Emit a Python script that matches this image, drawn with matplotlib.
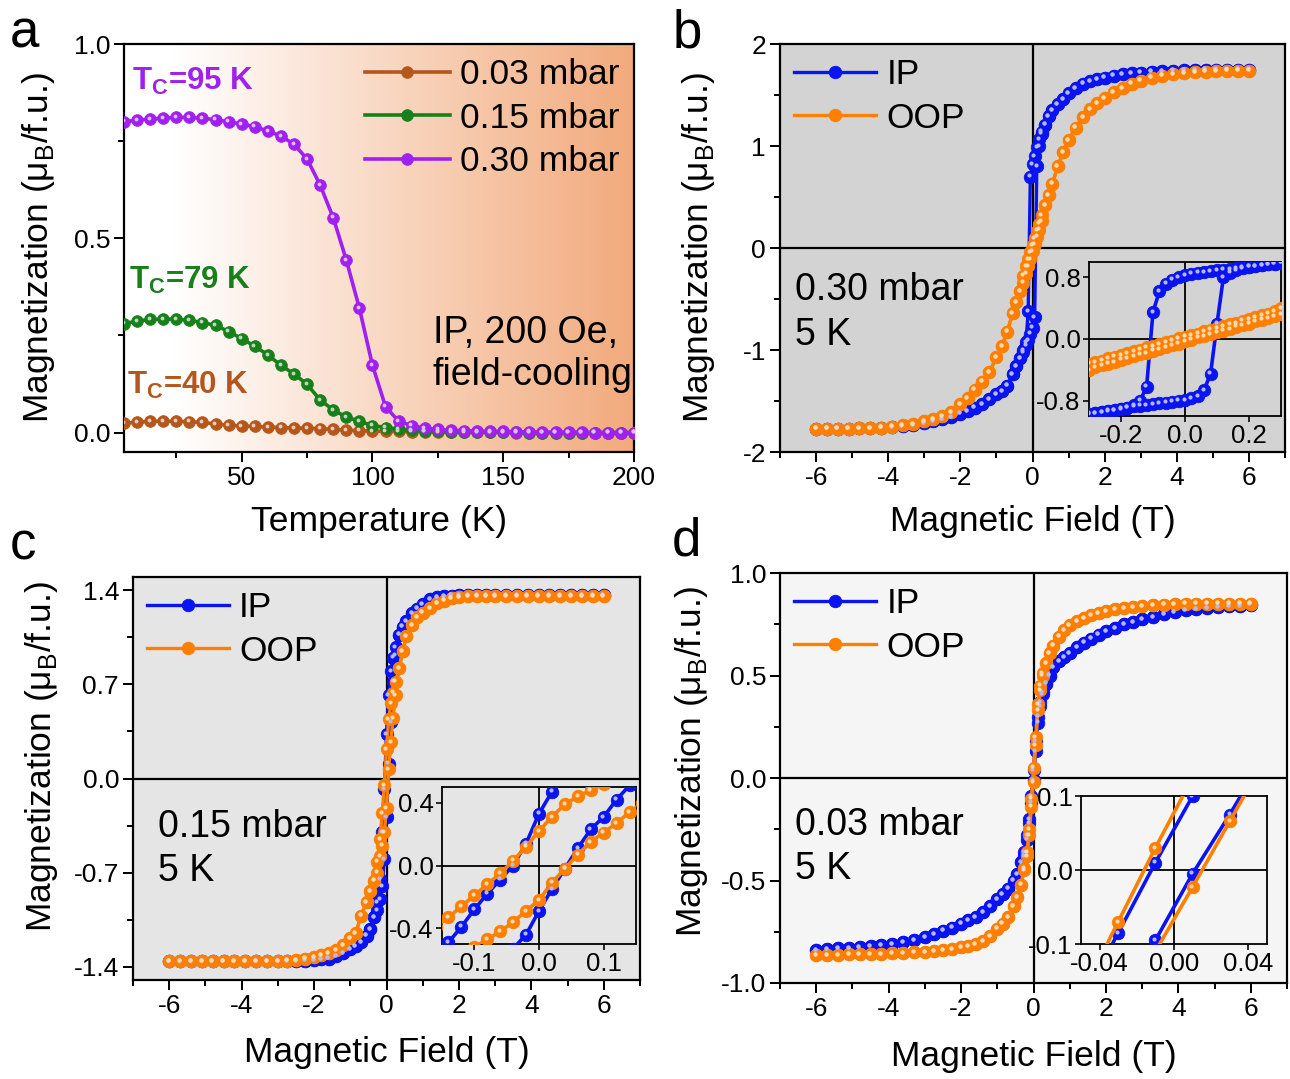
import numpy as np
import matplotlib
matplotlib.use("Agg")
import matplotlib.pyplot as plt
from matplotlib.colors import LinearSegmentedColormap, to_rgb
from matplotlib.transforms import offset_copy
from matplotlib.ticker import MultipleLocator, FormatStrFormatter

plt.rcParams["font.family"] = ["Liberation Sans", "DejaVu Sans"]
plt.rcParams["axes.unicode_minus"] = False

# ---------------- panel a: M(T), field cooled ----------------
temps = [5, 10, 15, 20, 25, 30, 35, 40, 45, 50, 55, 60, 65, 70, 75, 80, 85, 90, 95, 100,
         105, 110, 115, 120, 125, 130, 135, 140, 145, 150, 155, 160, 165, 170, 175, 180,
         185, 190, 195, 200]
m_003 = [0.024, 0.027, 0.029, 0.029, 0.029, 0.028, 0.026, 0.022, 0.019, 0.017,
         0.016, 0.014, 0.013, 0.012, 0.011, 0.010, 0.008, 0.006, 0.005, 0.004,
         0.003, 0.003, 0.002, 0.002, 0.001, 0.001, 0.001, 0.001, 0.001, 0.001,
         0.0, 0.0, 0.0, 0.0, 0.0, 0.0, 0.0, 0.0, 0.0, 0.0]
m_015 = [0.280, 0.287, 0.291, 0.292, 0.292, 0.289, 0.283, 0.276, 0.260, 0.242,
         0.222, 0.200, 0.173, 0.151, 0.124, 0.084, 0.058, 0.040, 0.029, 0.018,
         0.013, 0.009, 0.006, 0.004, 0.003, 0.002, 0.002, 0.001, 0.001, 0.001,
         0.001, 0.0, 0.0, 0.0, 0.0, 0.0, 0.0, 0.0, 0.0, 0.0]
m_030 = [0.800, 0.804, 0.807, 0.809, 0.811, 0.811, 0.809, 0.805, 0.800, 0.794,
         0.787, 0.776, 0.763, 0.742, 0.704, 0.637, 0.553, 0.444, 0.320, 0.173,
         0.067, 0.029, 0.018, 0.011, 0.008, 0.006, 0.005, 0.004, 0.003, 0.003,
         0.002, 0.002, 0.001, 0.001, 0.001, 0.001, 0.0, 0.0, 0.0, 0.0]

# ---------------- panels b-d: M(H) loops, shared field steps ----------------
H_LO = [-6.0, -5.7, -5.4, -5.1, -4.8, -4.5, -4.2, -3.9, -3.6, -3.3, -3.0, -2.75, -2.5,
        -2.25, -2.0, -1.8, -1.6, -1.4, -1.2, -1.0, -0.85, -0.7, -0.55, -0.45, -0.35]
H_MID = [-0.25, -0.18, -0.12, -0.06, 0.0, 0.06, 0.12, 0.18, 0.25]
H_HI = [0.35, 0.45, 0.55, 0.7, 0.85, 1.0, 1.2, 1.4, 1.6, 1.8, 2.0, 2.25, 2.5, 2.75,
        3.0, 3.3, 3.6, 3.9, 4.2, 4.5, 4.8, 5.1, 5.4, 5.7, 6.0]

# 0.30 mbar
ip_b_lo = [-1.77, -1.77, -1.77, -1.77, -1.765, -1.765, -1.76, -1.755, -1.745, -1.735,
           -1.72, -1.70, -1.68, -1.655, -1.625, -1.60, -1.565, -1.53, -1.48, -1.43,
           -1.40, -1.35, -1.24, -1.16, -1.08]
ip_b_dn = [-1.00, -0.92, -0.62, 0.70, 0.82, 0.90, 0.99, 1.07, 1.14]
ip_b_up = [-1.02, -0.95, -0.90, -0.84, -0.78, -0.68, 0.80, 1.00, 1.12]
ip_b_hi = [1.21, 1.29, 1.35, 1.41, 1.46, 1.52, 1.57, 1.61, 1.635, 1.655, 1.67, 1.69,
           1.705, 1.715, 1.72, 1.73, 1.735, 1.74, 1.743, 1.746, 1.748, 1.75, 1.75,
           1.75, 1.75]
oop_b_lo = [-1.77, -1.77, -1.77, -1.77, -1.765, -1.765, -1.76, -1.75, -1.74, -1.73,
            -1.70, -1.68, -1.65, -1.61, -1.53, -1.47, -1.39, -1.31, -1.22, -1.07,
            -0.96, -0.82, -0.64, -0.53, -0.42]
oop_b_dn = [-0.27, -0.18, -0.11, -0.04, 0.03, 0.10, 0.17, 0.24, 0.32]
oop_b_up = [-0.34, -0.25, -0.18, -0.11, -0.03, 0.04, 0.11, 0.18, 0.26]
oop_b_hi = [0.42, 0.52, 0.63, 0.80, 0.94, 1.06, 1.18, 1.28, 1.36, 1.42, 1.47, 1.53,
            1.57, 1.61, 1.64, 1.67, 1.69, 1.705, 1.715, 1.725, 1.73, 1.735, 1.74,
            1.74, 1.74]

# 0.15 mbar
ip_c_lo = [-1.36, -1.36, -1.36, -1.36, -1.36, -1.36, -1.36, -1.36, -1.36, -1.36,
           -1.36, -1.36, -1.36, -1.355, -1.35, -1.345, -1.34, -1.325, -1.30, -1.27,
           -1.25, -1.22, -1.17, -1.12, -1.03]
ip_c_dn = [-0.92, -0.75, -0.40, -0.08, 0.33, 0.62, 0.80, 0.90, 0.98]
ip_c_up = [-0.98, -0.90, -0.80, -0.60, -0.29, 0.11, 0.42, 0.72, 0.92]
ip_c_hi = [1.07, 1.13, 1.17, 1.23, 1.265, 1.30, 1.335, 1.352, 1.36, 1.362, 1.363,
           1.364, 1.365, 1.365, 1.365, 1.365, 1.365, 1.365, 1.365, 1.365, 1.365,
           1.365, 1.365, 1.365, 1.365]
oop_c_lo = [-1.36, -1.36, -1.36, -1.36, -1.36, -1.36, -1.36, -1.36, -1.36, -1.36,
            -1.36, -1.355, -1.35, -1.34, -1.33, -1.315, -1.30, -1.28, -1.24, -1.19,
            -1.15, -1.02, -0.92, -0.84, -0.76]
oop_c_dn = [-0.62, -0.45, -0.26, -0.05, 0.22, 0.44, 0.56, 0.64, 0.72]
oop_c_up = [-0.70, -0.58, -0.50, -0.40, -0.22, 0.07, 0.27, 0.45, 0.62]
oop_c_hi = [0.82, 0.95, 1.06, 1.14, 1.20, 1.235, 1.27, 1.305, 1.325, 1.34, 1.35,
            1.355, 1.36, 1.36, 1.36, 1.36, 1.36, 1.36, 1.36, 1.36, 1.36, 1.36, 1.36,
            1.36, 1.36]

# 0.03 mbar
ip_d_lo = [-0.84, -0.835, -0.83, -0.83, -0.825, -0.82, -0.815, -0.81, -0.80, -0.79,
           -0.775, -0.76, -0.745, -0.73, -0.71, -0.695, -0.68, -0.655, -0.625, -0.59,
           -0.565, -0.54, -0.50, -0.47, -0.41]
ip_d_dn = [-0.36, -0.28, -0.20, -0.09, 0.04, 0.18, 0.30, 0.37, 0.42]
ip_d_up = [-0.38, -0.30, -0.22, -0.12, -0.01, 0.13, 0.27, 0.35, 0.41]
ip_d_hi = [0.46, 0.50, 0.54, 0.57, 0.59, 0.61, 0.64, 0.66, 0.68, 0.70, 0.715, 0.73,
           0.75, 0.76, 0.775, 0.785, 0.80, 0.81, 0.82, 0.825, 0.83, 0.835, 0.84,
           0.84, 0.845]
oop_d_lo = [-0.865, -0.865, -0.865, -0.86, -0.86, -0.86, -0.86, -0.855, -0.855, -0.85,
            -0.85, -0.845, -0.84, -0.835, -0.825, -0.82, -0.81, -0.795, -0.77, -0.735,
            -0.71, -0.68, -0.625, -0.58, -0.52]
oop_d_dn = [-0.44, -0.36, -0.25, -0.10, 0.05, 0.20, 0.36, 0.45, 0.51]
oop_d_up = [-0.45, -0.38, -0.28, -0.14, -0.02, 0.16, 0.33, 0.43, 0.50]
oop_d_hi = [0.56, 0.61, 0.645, 0.69, 0.72, 0.745, 0.765, 0.78, 0.795, 0.805, 0.815,
            0.825, 0.83, 0.835, 0.84, 0.843, 0.846, 0.848, 0.85, 0.85, 0.85, 0.85,
            0.85, 0.85, 0.85]

# ---------------- low-field insets ----------------
hb_in = [-0.30, -0.28, -0.26, -0.24, -0.22, -0.20, -0.18, -0.16, -0.14, -0.12, -0.10,
         -0.08, -0.06, -0.04, -0.02, 0.00, 0.02, 0.04, 0.06, 0.08, 0.10, 0.12, 0.14,
         0.16, 0.18, 0.20, 0.22, 0.24, 0.26, 0.28, 0.30]
ip_b_in_dn = [-0.97, -0.96, -0.95, -0.93, -0.92, -0.91, -0.89, -0.86, -0.80, -0.62,
              0.35, 0.62, 0.72, 0.77, 0.80, 0.83, 0.85, 0.86, 0.87, 0.88, 0.89, 0.90,
              0.91, 0.92, 0.93, 0.94, 0.95, 0.96, 0.97, 0.98, 0.99]
ip_b_in_up = [-0.98, -0.965, -0.95, -0.935, -0.92, -0.905, -0.89, -0.875, -0.865,
              -0.855, -0.845, -0.835, -0.825, -0.815, -0.80, -0.79, -0.77, -0.74,
              -0.66, -0.45, 0.20, 0.80, 0.86, 0.89, 0.92, 0.94, 0.95, 0.96, 0.97,
              0.98, 0.99]
oop_b_in_dn = [-0.32, -0.30, -0.28, -0.25, -0.23, -0.21, -0.18, -0.16, -0.14, -0.11,
               -0.09, -0.07, -0.04, -0.02, 0.01, 0.03, 0.05, 0.07, 0.10, 0.12, 0.14,
               0.17, 0.19, 0.21, 0.24, 0.26, 0.28, 0.31, 0.33, 0.36, 0.40]
oop_b_in_up = [-0.40, -0.37, -0.34, -0.32, -0.30, -0.27, -0.25, -0.22, -0.20, -0.18,
               -0.15, -0.13, -0.11, -0.08, -0.06, -0.03, -0.01, 0.02, 0.04, 0.06, 0.09,
               0.11, 0.13, 0.16, 0.18, 0.20, 0.23, 0.25, 0.27, 0.30, 0.32]

hc_in = [-0.16, -0.14, -0.12, -0.10, -0.08, -0.06, -0.04, -0.02, 0.00, 0.02, 0.04,
         0.06, 0.08, 0.10, 0.12, 0.14, 0.16]
ip_c_in_dn = [-0.58, -0.49, -0.39, -0.28, -0.18, -0.09, 0.00, 0.14, 0.33, 0.47, 0.55,
              0.62, 0.68, 0.73, 0.78, 0.82, 0.85]
ip_c_in_up = [-0.90, -0.82, -0.75, -0.69, -0.64, -0.60, -0.53, -0.44, -0.29, -0.15,
              -0.02, 0.11, 0.23, 0.31, 0.42, 0.51, 0.58]
oop_c_in_dn = [-0.39, -0.33, -0.26, -0.19, -0.12, -0.05, 0.03, 0.12, 0.22, 0.31, 0.39,
               0.44, 0.48, 0.52, 0.56, 0.60, 0.63]
oop_c_in_up = [-0.68, -0.62, -0.57, -0.52, -0.47, -0.42, -0.36, -0.29, -0.22, -0.11,
               -0.02, 0.07, 0.15, 0.21, 0.27, 0.34, 0.40]

hd_in = [-0.07, -0.05, -0.03, -0.01, 0.01, 0.03, 0.05, 0.07]
ip_d_in_dn = [-0.27, -0.18, -0.085, 0.01, 0.10, 0.19, 0.28, 0.36]
ip_d_in_up = [-0.36, -0.27, -0.18, -0.095, -0.005, 0.075, 0.16, 0.24]
oop_d_in_dn = [-0.27, -0.17, -0.07, 0.03, 0.125, 0.22, 0.31, 0.39]
oop_d_in_up = [-0.38, -0.29, -0.20, -0.11, -0.023, 0.066, 0.155, 0.24]

BLUE = "#0a14f0"
ORANGE = "#ff8000"
C_003 = "#b5561b"
C_015 = "#17801a"
C_030 = "#a020f0"

fig = plt.figure(figsize=(12.9, 10.79), dpi=100)


def balls(ax, x, y, color, ms=9.0, lw=2.4, z=3, label=None):
    # line + sphere-like markers (dot with a light spot)
    ax.plot(x, y, "-o", color=color, lw=lw, ms=ms, mec=color, mew=0.6,
            zorder=z, label=label)
    hl = 0.3 * np.array(to_rgb(color)) + 0.7
    tr = offset_copy(ax.transData, fig=fig, x=-1.3, y=1.3, units="dots")
    ax.plot(x, y, "o", ls="none", color=hl, ms=ms * 0.33, mew=0,
            transform=tr, zorder=z + 0.01)


def style(ax, bg=None, size=19, lw=1.6, major=7, minor=4):
    if bg is not None:
        ax.set_facecolor(bg)
    for s in ax.spines.values():
        s.set_linewidth(lw)
    ax.tick_params(which="both", direction="out", top=False, right=False,
                   width=lw * 0.9, labelsize=size, pad=3)
    ax.tick_params(which="major", length=major)
    ax.tick_params(which="minor", length=minor)


def loop(ax, lo, dn, up, hi, color, label):
    h = H_LO + H_MID + H_HI
    balls(ax, h, lo + dn + hi, color, label=label)
    balls(ax, h, lo + up + hi, color)


def ylab(ax, x, y):
    ax.set_ylabel("Magnetization (μ$_{\\mathregular{B}}$/f.u.)", fontsize=25.5)
    ax.yaxis.set_label_coords(x, y)


def xlab(ax, text, y):
    ax.set_xlabel(text, fontsize=25.5, va="top")
    ax.xaxis.set_label_coords(0.5, y)


# ================= a =================
ax_a = fig.add_axes([124 / 1290, 1 - 452 / 1079, 510 / 1290, 408 / 1079])
style(ax_a)
grad = LinearSegmentedColormap.from_list(
    "g", [(0, "#ffffff"), (0.1, "#ffffff"), (1.0, "#f2aa7c")])
ax_a.imshow(np.linspace(0, 1, 256)[None, :], cmap=grad, aspect="auto",
            extent=[5, 200, -0.05, 1.0], zorder=0)
balls(ax_a, temps, m_003, C_003, ms=8.4, lw=2.6, label="0.03 mbar")
balls(ax_a, temps, m_015, C_015, ms=8.4, lw=2.6, label="0.15 mbar")
balls(ax_a, temps, m_030, C_030, ms=8.4, lw=2.6, label="0.30 mbar")
ax_a.set_xlim(5, 200)
ax_a.set_ylim(-0.05, 1.0)
ax_a.xaxis.set_major_locator(MultipleLocator(50))
ax_a.xaxis.set_minor_locator(MultipleLocator(25))
ax_a.yaxis.set_major_locator(MultipleLocator(0.5))
ax_a.yaxis.set_minor_locator(MultipleLocator(0.25))
ax_a.yaxis.set_major_formatter(FormatStrFormatter("%.1f"))
xlab(ax_a, "Temperature (K)", -0.13)
ylab(ax_a, -0.131, 0.5)
ax_a.legend(loc="upper right", frameon=False, fontsize=25.5, handlelength=2.4,
            handletextpad=0.3, labelspacing=0.3, borderaxespad=0.1,
            borderpad=0.3)
ax_a.text(8, 0.881, "T$_{\\mathregular{C}}$=95 K", color=C_030, fontsize=22.5,
          fontweight="bold")
ax_a.text(7, 0.371, "T$_{\\mathregular{C}}$=79 K", color=C_015, fontsize=22.5,
          fontweight="bold")
ax_a.text(6, 0.100, "T$_{\\mathregular{C}}$=40 K", color=C_003, fontsize=22.5,
          fontweight="bold")
ax_a.text(0.997, 0.335, "IP, 200 Oe,\nfield-cooling", transform=ax_a.transAxes,
          ha="right", va="top", multialignment="left", fontsize=27,
          linespacing=1.2)


def loop_panel(rect, bg, ip, oop, ylim, ymaj, ymin, yfmt, label_y, note, note_xy):
    ax = fig.add_axes(rect)
    style(ax, bg)
    ax.axhline(0, color="k", lw=1.6, zorder=1.5)
    ax.axvline(0, color="k", lw=1.6, zorder=1.5)
    loop(ax, *ip, BLUE, "IP")
    loop(ax, *oop, ORANGE, "OOP")
    ax.set_xlim(-7, 7)
    ax.set_ylim(*ylim)
    ax.xaxis.set_major_locator(MultipleLocator(2))
    ax.xaxis.set_minor_locator(MultipleLocator(1))
    ax.yaxis.set_major_locator(MultipleLocator(ymaj))
    ax.yaxis.set_minor_locator(MultipleLocator(ymin))
    ax.yaxis.set_major_formatter(FormatStrFormatter(yfmt))
    xlab(ax, "Magnetic Field (T)", label_y[0])
    ylab(ax, label_y[1], label_y[2])
    ax.legend(loc="upper left", frameon=False, fontsize=25.5, handlelength=2.3,
              handletextpad=0.3, labelspacing=0.3, borderaxespad=0.1,
              borderpad=0.3)
    ax.text(note_xy[0], note_xy[1], note, transform=ax.transAxes, ha="left",
            va="top", fontsize=27, linespacing=1.3)
    return ax


def inset(rect, bg, h, ip_dn, ip_up, oop_dn, oop_up, xlim, ylim, xt, yt, xfmt):
    ins = fig.add_axes(rect)
    style(ins, bg, size=18.5, lw=1.3, major=4, minor=2)
    ins.axhline(0, color="k", lw=1.3, zorder=1.5)
    ins.axvline(0, color="k", lw=1.3, zorder=1.5)
    balls(ins, h, ip_dn, BLUE, lw=2.6)
    balls(ins, h, ip_up, BLUE, lw=2.6)
    balls(ins, h, oop_dn, ORANGE, lw=2.6)
    balls(ins, h, oop_up, ORANGE, lw=2.6)
    ins.set_xlim(*xlim)
    ins.set_ylim(*ylim)
    ins.set_xticks(xt)
    ins.set_yticks(yt)
    ins.xaxis.set_major_formatter(FormatStrFormatter(xfmt))
    ins.yaxis.set_major_formatter(FormatStrFormatter("%.1f"))
    ins.tick_params(pad=2)
    return ins


# ================= b =================
ax_b = loop_panel([780 / 1290, 1 - 452 / 1079, 505 / 1290, 408 / 1079], "#d3d3d3",
                  (ip_b_lo, ip_b_dn, ip_b_up, ip_b_hi),
                  (oop_b_lo, oop_b_dn, oop_b_up, oop_b_hi),
                  (-2, 2), 1, 0.5, "%d", (-0.13, -0.125, 0.5),
                  "0.30 mbar\n5 K", (0.03, 0.44))
inset([1089 / 1290, 1 - 416 / 1079, 192 / 1290, 154 / 1079], "#d3d3d3", hb_in,
      ip_b_in_dn, ip_b_in_up, oop_b_in_dn, oop_b_in_up, (-0.3, 0.3), (-1, 1),
      [-0.2, 0.0, 0.2], [-0.8, 0.0, 0.8], "%.1f")

# ================= c =================
ax_c = loop_panel([133 / 1290, 1 - 980 / 1079, 507 / 1290, 403 / 1079], "#e5e5e5",
                  (ip_c_lo, ip_c_dn, ip_c_up, ip_c_hi),
                  (oop_c_lo, oop_c_dn, oop_c_up, oop_c_hi),
                  (-1.5, 1.5), 0.7, 0.35, "%.1f", (-0.139, -0.144, 0.553),
                  "0.15 mbar\n5 K", (0.049, 0.425))
inset([442 / 1290, 1 - 944 / 1079, 194 / 1290, 157 / 1079], "#e5e5e5", hc_in,
      ip_c_in_dn, ip_c_in_up, oop_c_in_dn, oop_c_in_up, (-0.15, 0.15), (-0.5, 0.5),
      [-0.1, 0.0, 0.1], [-0.4, 0.0, 0.4], "%.1f")

# ================= d =================
ax_d = loop_panel([780 / 1290, 1 - 983 / 1079, 507 / 1290, 410 / 1079], "#f5f5f5",
                  (ip_d_lo, ip_d_dn, ip_d_up, ip_d_hi),
                  (oop_d_lo, oop_d_dn, oop_d_up, oop_d_hi),
                  (-1, 1), 0.5, 0.25, "%.1f", (-0.139, -0.138, 0.54),
                  "0.03 mbar\n5 K", (0.03, 0.43))
inset([1081 / 1290, 1 - 944 / 1079, 186 / 1290, 148 / 1079], "#f5f5f5", hd_in,
      ip_d_in_dn, ip_d_in_up, oop_d_in_dn, oop_d_in_up, (-0.05, 0.05), (-0.1, 0.1),
      [-0.04, 0.0, 0.04], [-0.1, 0.0, 0.1], "%.2f")

# panel letters
for letter, x, y in [("a", 10, 47), ("b", 673, 47), ("c", 10, 560), ("d", 672, 556)]:
    fig.text(x / 1290, 1 - y / 1079, letter, fontsize=38, va="baseline", ha="left")

fig.savefig("out.png", dpi=100)
